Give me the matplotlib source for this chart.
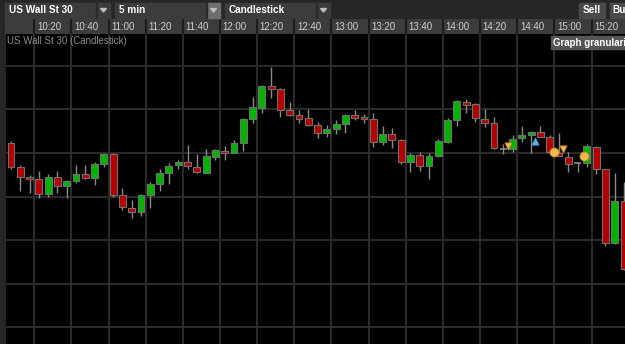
import matplotlib
matplotlib.use("Agg")
import matplotlib.pyplot as plt
from matplotlib.patches import Rectangle, Polygon
import numpy as np

plt.rcParams['font.family'] = ['Liberation Sans', 'DejaVu Sans']

# 5 minute bars, first bar starts 10:05 (minutes since midnight)
first_bar = 605
bar_len = 5

opens = [17084.5, 17073.5, 17069.1, 17068.2, 17061.0, 17069.1, 17064.9, 17067.3, 17070.2, 17068.4,
         17075.0, 17079.6, 17060.5, 17054.7, 17053.0, 17060.6, 17065.8, 17070.7, 17074.4, 17075.8,
         17073.7, 17071.0, 17078.3, 17081.1, 17080.0, 17084.8, 17095.4, 17100.9, 17110.9, 17109.5,
         17099.7, 17097.4, 17096.0, 17092.8, 17089.1, 17091.2, 17093.2, 17097.5, 17096.5, 17095.5,
         17085.1, 17088.6, 17086.0, 17075.8, 17079.3, 17073.9, 17078.5, 17085.1, 17095.2, 17103.6,
         17102.3, 17095.8, 17093.7, 17082.0, 17081.9, 17086.8, 17088.3, 17089.7, 17087.4, 17080.2,
         17078.3, 17075.3, 17075.3, 17082.9, 17072.5, 17038.5, 17058.0]
highs = [17085.7, 17074.4, 17069.8, 17071.6, 17070.4, 17071.6, 17067.6, 17074.7, 17074.7, 17075.9,
         17079.8, 17079.8, 17063.8, 17058.4, 17061.2, 17066.7, 17072.5, 17075.3, 17076.8, 17083.7,
         17079.4, 17081.7, 17081.7, 17083.3, 17086.0, 17096.0, 17105.8, 17111.2, 17119.7, 17109.9,
         17103.4, 17099.8, 17100.3, 17094.3, 17092.8, 17095.2, 17097.8, 17099.8, 17097.7, 17098.3,
         17092.5, 17091.4, 17086.3, 17080.2, 17080.4, 17079.9, 17086.5, 17096.0, 17104.4, 17104.7,
         17102.9, 17100.1, 17096.7, 17084.2, 17088.3, 17092.6, 17090.0, 17092.6, 17088.3, 17089.4,
         17080.6, 17076.0, 17084.0, 17083.2, 17072.8, 17070.7, 17066.8]
lows = [17072.5, 17062.7, 17061.5, 17059.5, 17059.9, 17061.8, 17059.5, 17066.1, 17068.1, 17065.3,
        17073.5, 17059.9, 17053.8, 17050.0, 17051.2, 17054.6, 17062.6, 17065.6, 17072.5, 17072.5,
        17070.7, 17070.7, 17076.8, 17076.8, 17079.8, 17081.1, 17093.7, 17098.6, 17105.2, 17096.5,
        17097.1, 17094.0, 17092.5, 17087.1, 17087.3, 17088.6, 17089.4, 17095.2, 17094.0, 17082.7,
        17083.6, 17082.5, 17075.0, 17071.3, 17071.6, 17068.2, 17078.3, 17084.8, 17092.5, 17098.6,
        17094.3, 17091.9, 17082.0, 17079.4, 17080.6, 17085.0, 17079.9, 17087.2, 17080.1, 17078.5,
        17071.2, 17071.4, 17073.7, 17070.4, 17037.3, 17038.2, 17026.2]
closes = [17073.5, 17069.1, 17068.2, 17061.0, 17069.1, 17065.0, 17067.2, 17070.2, 17068.4, 17075.0,
          17079.6, 17060.5, 17055.1, 17053.0, 17060.6, 17065.8, 17070.7, 17074.2, 17075.9, 17073.9,
          17071.2, 17078.7, 17081.3, 17080.0, 17084.8, 17095.7, 17101.1, 17110.9, 17109.5, 17099.8,
          17097.5, 17095.8, 17092.8, 17089.1, 17091.2, 17093.2, 17097.5, 17096.3, 17095.5, 17085.1,
          17088.6, 17086.2, 17075.8, 17079.3, 17073.9, 17078.5, 17085.6, 17095.2, 17103.8, 17102.1,
          17096.0, 17093.7, 17082.3, 17082.0, 17086.5, 17088.3, 17089.7, 17087.5, 17080.4, 17078.8,
          17074.8, 17075.3, 17083.3, 17072.7, 17038.8, 17058.0, 17026.5]

# trade markers (minutes since midnight, price)
sell_t = [875.2, 904.4]
sell_p = [17083.0, 17082.0]
buy_t = [889.8]
buy_p = [17085.6]
order_t = [899.9, 915.9]
order_p = [17080.5, 17078.7]

time_ticks = ["10:20", "10:40", "11:00", "11:20", "11:40", "12:00", "12:20", "12:40", "13:00",
              "13:20", "13:40", "14:00", "14:20", "14:40", "15:00", "15:20"]

W, H = 625, 344
fig = plt.figure(figsize=(W / 100, H / 100), dpi=100, facecolor='#262626')

def fx(px):
    return px / W

def fy(py):
    return 1 - py / H

xmin, xmax = 604.8, 938.0
ymin, ymax = 16992.2, 17134.7

# main chart
ax = fig.add_axes([fx(6), 0, fx(625) - fx(6), fy(34)])
ax.set_facecolor('black')
ax.set_xlim(xmin, xmax)
ax.set_ylim(ymin, ymax)
for s in ax.spines.values():
    s.set_visible(False)
ax.set_xticks([])
ax.set_yticks([])

tick_min = [int(t[:2]) * 60 + int(t[3:]) for t in time_ticks]
for m in tick_min:
    ax.axvline(m, color='#2c2c2c', lw=1.4, zorder=1)
for p in np.arange(17000, 17121, 20):
    ax.axhline(p, color='#2c2c2c', lw=1.4, zorder=1)

x = first_bar + bar_len * np.arange(len(opens)) + bar_len / 2
o = np.array(opens)
c = np.array(closes)
ax.vlines(x, lows, highs, color='#8a8a8a', lw=1, zorder=2)
up = c > o
dn = c < o
eq = c == o
bw = 3.7
ax.bar(x[up], (c - o)[up], bottom=o[up], width=bw, color='#00b400',
       edgecolor='#707070', lw=0.8, zorder=3)
ax.bar(x[dn], (o - c)[dn], bottom=c[dn], width=bw, color='#b40000',
       edgecolor='#707070', lw=0.8, zorder=3)
ax.hlines(o[eq], x[eq] - bw / 2, x[eq] + bw / 2, color='#8a8a8a', lw=1.2, zorder=3)

ax.scatter(sell_t, sell_p, marker='v', s=28, color='#f5b44a', edgecolor='#b07a20', lw=0.5, zorder=5)
ax.scatter(buy_t, buy_p, marker='^', s=30, color='#5ab4ea', edgecolor='#3a7fb0', lw=0.5, zorder=5)
ax.scatter(order_t, order_p, marker='o', s=42, color='#f7b84e', edgecolor='#c08a30', lw=0.6, zorder=5)

# time header row
hx = fig.add_axes([fx(5), fy(34), fx(625) - fx(5), fy(19) - fy(34)])
hx.set_facecolor('#3c3c3c')
hx.set_xlim(xmin - 0.538, xmax)
hx.set_ylim(0, 1)
hx.axis('off')
hx.add_patch(Rectangle((xmin - 0.538, 0), xmax - xmin + 1, 1, color='#3c3c3c', zorder=0))
for m, lab in zip(tick_min, time_ticks):
    hx.axvline(m, color='#1c1c1c', lw=1.5)
    hx.text(m + 1.4, 0.45, lab, color='#cfcfcf', fontsize=7, ha='left', va='center')

# overlay for toolbar and labels, pixel coordinates
ov = fig.add_axes([0, 0, 1, 1], facecolor='none')
ov.set_xlim(0, W)
ov.set_ylim(H, 0)
ov.axis('off')

boxes = [(5, 110, "US Wall St 30", '#3c3c3c'), (115, 220, "5 min", '#6e6e6e'),
         (225, 330, "Candlestick", '#3c3c3c')]
for x0, x1, lab, arrow_bg in boxes:
    ov.add_patch(Rectangle((x0, 2.5), x1 - x0, 15, color='#3c3c3c'))
    ov.add_patch(Rectangle((x1 - 13, 2.5), 13, 15, color=arrow_bg))
    ov.add_patch(Rectangle((x1 - 14, 2.5), 1, 15, color='#2a2a2a'))
    ov.add_patch(Polygon([(x1 - 9.5, 8.5), (x1 - 3.5, 8.5), (x1 - 6.5, 12)], color='#bdbdbd'))
    ov.text(x0 + 4, 10.3, lab, color='white', fontsize=7.2, fontweight='bold', va='center', ha='left')

ov.add_patch(Rectangle((579, 2.5), 26, 15, color='#4a4a4a'))
ov.text(592, 10.3, "Sell", color='white', fontsize=7.2, fontweight='bold', va='center', ha='center')
ov.add_patch(Rectangle((610, 2.5), 20, 15, color='#4a4a4a'))
ov.text(612, 10.3, "Buy", color='white', fontsize=7.2, fontweight='bold', va='center', ha='left')

ov.text(7, 41, "US Wall St 30 (Candlestick)", color='#8c8c8c', fontsize=7, va='center', ha='left')
ov.add_patch(Rectangle((551, 35.5), 80, 13.5, color='#555555'))
ov.text(553, 42.5, "Graph granularity", color='white', fontsize=7, fontweight='bold',
        va='center', ha='left')

fig.savefig("out.png", dpi=100, facecolor=fig.get_facecolor())
